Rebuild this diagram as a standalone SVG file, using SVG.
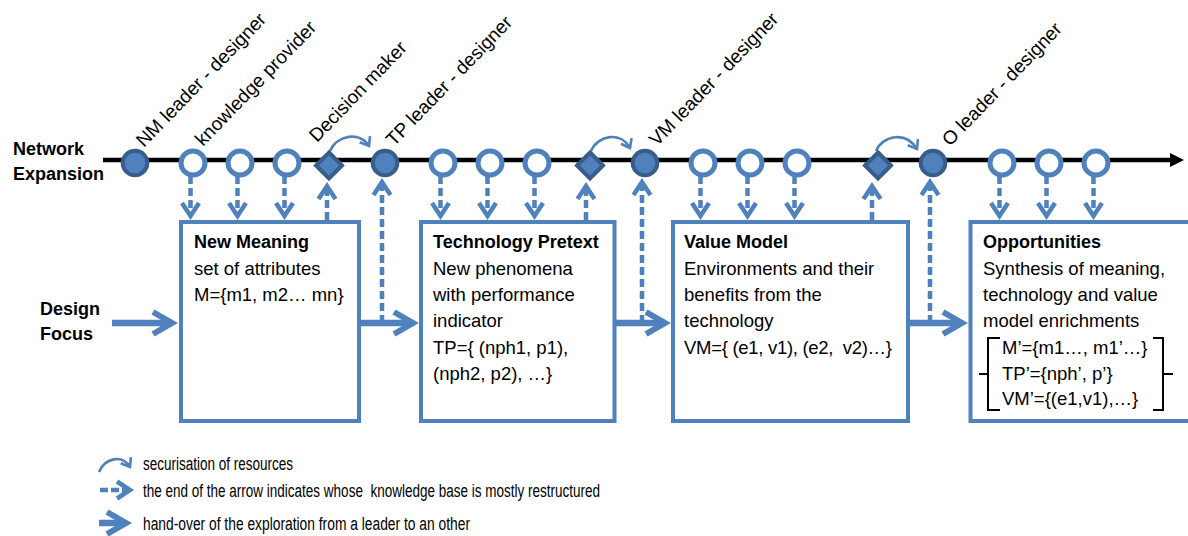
<svg xmlns="http://www.w3.org/2000/svg" width="1188" height="536" viewBox="0 0 1188 536">
<style>
text{font-family:"Liberation Sans",Arial,sans-serif;fill:#000}
.lbl{font-size:19px}
.side{font-size:18px;font-weight:bold}
.title{font-size:18px;font-weight:bold}
.body{font-size:18.5px}
.leg{font-size:18px}
.box{fill:#fff;stroke:#4F81BD;stroke-width:4}
.hollow{fill:#fff;stroke:#4F81BD;stroke-width:5}
.lead{fill:#4F81BD;stroke:#385D8A;stroke-width:4}
.dec{fill:#4F81BD;stroke:#385D8A;stroke-width:4;stroke-linejoin:miter}
.dash{fill:none;stroke:#4F81BD;stroke-width:4.5;stroke-dasharray:8 4;marker-end:url(#chevS)}
.hand{fill:none;stroke:#4F81BD;stroke-width:6.5;marker-end:url(#chevL)}
.curve{fill:none;stroke:#4F81BD;stroke-width:2.6;marker-end:url(#chevC)}
.brk{fill:none;stroke:#000;stroke-width:2}
</style>
<defs>
<marker id="chevL" markerUnits="userSpaceOnUse" viewBox="-30 -20 40 40" markerWidth="40" markerHeight="40" refX="0" refY="0" orient="auto">
<path d="M-19,-11 L0,0 L-19,11" fill="none" stroke="#4F81BD" stroke-width="6"/>
</marker>
<marker id="chevS" markerUnits="userSpaceOnUse" viewBox="-20 -15 30 30" markerWidth="30" markerHeight="30" refX="0" refY="0" orient="auto">
<path d="M-13,-8.5 L0,0 L-13,8.5" fill="none" stroke="#4F81BD" stroke-width="4.5"/>
</marker>
<marker id="chevC" markerUnits="userSpaceOnUse" viewBox="-15 -10 20 20" markerWidth="20" markerHeight="20" refX="0" refY="0" orient="auto">
<path d="M-8,-6 L0,0 L-8,6" fill="none" stroke="#4F81BD" stroke-width="2.6"/>
</marker>
</defs>

<g id="connectors">
<path id="timeline" d="M103,160 H1171" stroke="#000" stroke-width="4.5" fill="none"/>
<path d="M1170,153 L1184,160 L1170,167 Z" fill="#000"/>
<path class="dash" d="M190.5,176 V216"/>
<path class="dash" d="M237.5,176 V216"/>
<path class="dash" d="M284.5,176 V216"/>
<path class="dash" d="M440.5,176 V216"/>
<path class="dash" d="M487.5,176 V216"/>
<path class="dash" d="M534.5,176 V216"/>
<path class="dash" d="M700.5,176 V216"/>
<path class="dash" d="M747.5,176 V216"/>
<path class="dash" d="M794.5,176 V216"/>
<path class="dash" d="M999.5,176 V216"/>
<path class="dash" d="M1046.5,176 V216"/>
<path class="dash" d="M1093.5,176 V216"/>
<path class="dash" d="M327,220 V186"/>
<path class="dash" d="M586,220 V186"/>
<path class="dash" d="M872,220 V186"/>
<path class="dash" d="M382,323 V182"/>
<path class="dash" d="M642,323 V182"/>
<path class="dash" d="M930,323 V182"/>
<path class="hand" d="M112,323 H172"/>
<path class="hand" d="M361,323 H413"/>
<path class="hand" d="M616,323 H665"/>
<path class="hand" d="M910,323 H962"/>
<path class="curve" d="M330,151 C337,135 360,131 369,146"/>
<path class="curve" d="M591,151 C598,135 621,131 630,148"/>
<path class="curve" d="M876,151 C883,135 906,131 917,149"/>
</g>

<g id="nm-leader"><circle class="lead" cx="135" cy="163" r="12.3"/><text class="lbl" transform="translate(144,148) rotate(-46)">NM leader - designer</text></g>
<g id="kp1"><circle class="hollow" cx="193" cy="163" r="12"/><text class="lbl" transform="translate(203,147) rotate(-46)">knowledge provider</text></g>
<g id="kp2"><circle class="hollow" cx="240" cy="163" r="12"/></g>
<g id="kp3"><circle class="hollow" cx="287" cy="163" r="12"/></g>
<g id="dm1"><path class="dec" d="M329,152.5 L342,165.5 L329,178.5 L316,165.5 Z"/><text class="lbl" transform="translate(317,143) rotate(-46)">Decision maker</text></g>
<g id="tp-leader"><circle class="lead" cx="385" cy="163" r="12.3"/><text class="lbl" transform="translate(394,147) rotate(-46)">TP leader - designer</text></g>
<g id="kp4"><circle class="hollow" cx="443" cy="163" r="12"/></g>
<g id="kp5"><circle class="hollow" cx="490" cy="163" r="12"/></g>
<g id="kp6"><circle class="hollow" cx="537" cy="163" r="12"/></g>
<g id="dm2"><path class="dec" d="M590,152.5 L603,165.5 L590,178.5 L577,165.5 Z"/></g>
<g id="vm-leader"><circle class="lead" cx="645" cy="163" r="12.3"/><text class="lbl" transform="translate(657,147) rotate(-46)">VM leader - designer</text></g>
<g id="kp7"><circle class="hollow" cx="703" cy="163" r="12"/></g>
<g id="kp8"><circle class="hollow" cx="750" cy="163" r="12"/></g>
<g id="kp9"><circle class="hollow" cx="797" cy="163" r="12"/></g>
<g id="dm3"><path class="dec" d="M878,152.5 L891,165.5 L878,178.5 L865,165.5 Z"/></g>
<g id="o-leader"><circle class="lead" cx="933" cy="163" r="12.3"/><text class="lbl" transform="translate(950,147) rotate(-46)">O leader - designer</text></g>
<g id="kp10"><circle class="hollow" cx="1002" cy="163" r="12"/></g>
<g id="kp11"><circle class="hollow" cx="1049" cy="163" r="12"/></g>
<g id="kp12"><circle class="hollow" cx="1096" cy="163" r="12"/></g>

<g id="box-nm">
<rect class="box" x="181" y="222" width="178" height="199"/>
<text class="title" x="194" y="248">New Meaning</text>
<text class="body" x="194" y="274.5">set of attributes</text>
<text class="body" x="194" y="301">M={m1, m2… mn}</text>
</g>
<g id="box-tp">
<rect class="box" x="421" y="222" width="193.5" height="199"/>
<text class="title" x="433" y="248">Technology Pretext</text>
<text class="body" x="433" y="274.5">New phenomena</text>
<text class="body" x="433" y="301">with performance</text>
<text class="body" x="433" y="327">indicator</text>
<text class="body" x="433" y="353.5">TP={ (nph1, p1),</text>
<text class="body" x="433" y="380">(nph2, p2), …}</text>
</g>
<g id="box-vm">
<rect class="box" x="673" y="222" width="235" height="199"/>
<text class="title" x="684" y="248">Value Model</text>
<text class="body" x="684" y="274.5">Environments and their</text>
<text class="body" x="684" y="301">benefits from the</text>
<text class="body" x="684" y="327">technology</text>
<text class="body" x="684" y="353.5" textLength="208" style="white-space:pre">VM={ (e1, v1), (e2,  v2)…}</text>
</g>
<g id="box-opp">
<rect class="box" x="970.5" y="222" width="230" height="199"/>
<text class="title" x="983" y="248">Opportunities</text>
<text class="body" x="983" y="274.5">Synthesis of meaning,</text>
<text class="body" x="983" y="301">technology and value</text>
<text class="body" x="983" y="327">model enrichments</text>
<path class="brk" d="M1000,338 H988 V410 H1000 M988,374 H979"/>
<path class="brk" d="M1153,338 H1163 V410 H1153 M1163,374 H1173"/>
<text class="body" x="1002" y="353.5">M’={m1…, m1’…}</text>
<text class="body" x="1002" y="380">TP’={nph’, p’}</text>
<text class="body" x="1002" y="405">VM’={(e1,v1),…}</text>
</g>

<g id="side-labels">
<text class="side" x="13" y="155">Network</text>
<text class="side" x="13" y="180">Expansion</text>
<text class="side" x="40" y="315">Design</text>
<text class="side" x="40" y="340">Focus</text>
</g>

<g id="legend">
<path class="curve" d="M99,472 C105,458 122,454 130,467"/>
<text class="leg" x="143" y="470" textLength="150" lengthAdjust="spacingAndGlyphs">securisation of resources</text>
<path class="dash" d="M100,490 H130" style="stroke-dasharray:8 3"/>
<text class="leg" x="143" y="497" textLength="457" lengthAdjust="spacingAndGlyphs" style="white-space:pre">the end of the arrow indicates whose  knowledge base is mostly restructured</text>
<path class="hand" d="M99,523 H126"/>
<text class="leg" x="143" y="530" textLength="327" lengthAdjust="spacingAndGlyphs">hand-over of the exploration from a leader to an other</text>
</g>
</svg>
